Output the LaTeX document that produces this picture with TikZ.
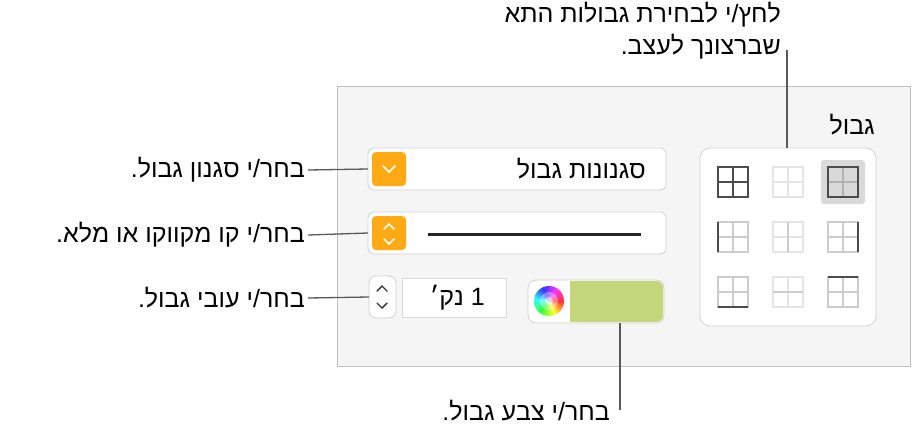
\documentclass[tikz,border=0pt]{standalone}
\usepackage{fontspec}
\setmainfont{Liberation Sans}
\usetikzlibrary{calc}
\TeXXeTstate=1
\definecolor{wellgreen}{RGB}{197,213,122}
\definecolor{btnorange}{RGB}{255,170,20}
\begin{document}
\begin{tikzpicture}[x=1pt,y=-1pt,
  lbl/.style={font=\fontsize{25}{28}\selectfont,inner sep=0pt},
  conn/.style={draw=black!65,line width=1.3pt},
  ctrl/.style={fill=white,draw=black!18,rounded corners=6pt,line width=0.8pt},
  lite/.style={draw=black!10,line width=1.4pt},
  mid/.style={draw=black!20,line width=1.4pt},
  dark/.style={draw=black!70,line width=2pt}]
\useasboundingbox (0,0) rectangle (912,434);
\fill[white] (0,0) rectangle (912,434);
% panel
\draw[fill=black!4,draw=black!25] (337,86) rectangle (910,366);
\node[lbl,anchor=east] (title) at (875,125) {\beginR גבול\endR};
% grid box
\draw[ctrl,rounded corners=10pt] (700,148) rectangle (876,326);
\coordinate (gridtop) at (787,148);
\fill[black!15,rounded corners=3pt] (821,160) rectangle (865,204);
\foreach \cx/\cy/\k in {733/182/a,788/182/b,843/182/c,733/237/d,788/237/e,843/237/f,733/292/g,788/292/h,843/292/i}{
  \coordinate (\k) at (\cx,\cy);
  \draw[lite] (\cx-15,\cy-15) rectangle (\cx+15,\cy+15) (\cx,\cy-15)--(\cx,\cy+15) (\cx-15,\cy)--(\cx+15,\cy);
}
\draw[dark] ($(a)+(-15,-15)$) rectangle ($(a)+(15,15)$) ($(a)+(0,-15)$)--($(a)+(0,15)$) ($(a)+(-15,0)$)--($(a)+(15,0)$);
\draw[draw=black!30,line width=1.4pt] ($(c)+(0,-15)$)--($(c)+(0,15)$) ($(c)+(-15,0)$)--($(c)+(15,0)$);
\draw[dark] ($(c)+(-15,-15)$) rectangle ($(c)+(15,15)$);
\draw[mid] ($(d)+(-15,-15)$) rectangle ($(d)+(15,15)$) ($(d)+(0,-15)$)--($(d)+(0,15)$) ($(d)+(-15,0)$)--($(d)+(15,0)$);
\draw[dark] ($(d)+(-15,-15)$)--($(d)+(-15,15)$);
\draw[mid] ($(e)+(0,-15)$)--($(e)+(0,15)$);
\draw[mid] ($(f)+(-15,-15)$) rectangle ($(f)+(15,15)$) ($(f)+(0,-15)$)--($(f)+(0,15)$) ($(f)+(-15,0)$)--($(f)+(15,0)$);
\draw[dark] ($(f)+(15,-15)$)--($(f)+(15,15)$);
\draw[mid] ($(g)+(-15,-15)$) rectangle ($(g)+(15,15)$) ($(g)+(0,-15)$)--($(g)+(0,15)$) ($(g)+(-15,0)$)--($(g)+(15,0)$);
\draw[dark] ($(g)+(-15,15)$)--($(g)+(15,15)$);
\draw[mid] ($(h)+(-15,0)$)--($(h)+(15,0)$);
\draw[mid] ($(i)+(-15,-15)$) rectangle ($(i)+(15,15)$) ($(i)+(0,-15)$)--($(i)+(0,15)$) ($(i)+(-15,0)$)--($(i)+(15,0)$);
\draw[dark] ($(i)+(-15,-15)$)--($(i)+(15,-15)$);
% popup 1
\draw[ctrl] (368,148) rectangle (666,190);
\fill[btnorange,rounded corners=4pt] (372,152) rectangle (406,186);
\draw[white,line width=1.6pt,line cap=round] (383,166)--(389,172)--(395,166);
\node[lbl,anchor=east] (style) at (646,169) {\beginR סגנונות גבול\endR};
\coordinate (p1) at (368,169);
% popup 2
\draw[ctrl] (368,212) rectangle (666,254);
\fill[btnorange,rounded corners=4pt] (372,216) rectangle (406,250);
\draw[white,line width=1.6pt,line cap=round] (384,229)--(389,224)--(394,229) (384,239)--(389,244)--(394,239);
\draw[black!85,line width=3pt] (428,234)--(641,234);
\coordinate (p2) at (368,233);
% stepper
\draw[ctrl,rounded corners=7pt] (369,276) rectangle (396,318);
\draw[black!80,line width=1.4pt,line cap=round] (377,291)--(382,286)--(387,291) (377,303)--(382,308)--(387,303);
\coordinate (p3) at (369,297);
\draw[fill=white,draw=black!15] (402,278) rectangle (506,317);
\node[lbl,anchor=east] (thick) at (485,298) {\beginR 1 נק׳\endR};
% colour well
\draw[ctrl,rounded corners=8pt] (528,280) rectangle (664,323);
\fill[wellgreen,rounded corners=7pt] (570,281) rectangle (663,322);
\fill[wellgreen] (570,281) rectangle (585,322);
\foreach \h in {0,10,...,350}{
  \pgfmathsetmacro{\hh}{\h/360}
  \definecolor{hc}{hsb}{\hh,0.8,1}
  \fill[hc] (549,301) -- ++(\h:15) arc[start angle=\h,end angle=\h+11,radius=15] -- cycle;
}
\fill[white,opacity=0.35] (549,301) circle (9);
\fill[white,opacity=0.5] (549,301) circle (4);
\coordinate (cw) at (620,323);
% labels
\node[lbl,anchor=east] (l1) at (305,170) {\beginR בחר/י סגנון גבול.\endR};
\node[lbl,anchor=east] (l2) at (305,235) {\beginR בחר/י קו מקווקו או מלא.\endR};
\node[lbl,anchor=east] (l3) at (305,298) {\beginR בחר/י עובי גבול.\endR};
\node[lbl,anchor=east] (l4) at (610,411) {\beginR בחר/י צבע גבול.\endR};
\node[lbl,anchor=east] (l5a) at (781,15) {\beginR לחץ/י לבחירת גבולות התא\endR};
\node[lbl,anchor=east] (l5b) at (781,47) {\beginR שברצונך לעצב.\endR};
\draw[conn] ($(l1.east)+(3,0)$) -- (p1);
\draw[conn] ($(l2.east)+(3,0)$) -- (p2);
\draw[conn] ($(l3.east)+(3,0)$) -- (p3);
\draw[conn] (cw) -- (620,410);
\draw[conn] (787,50) -- (gridtop);
\end{tikzpicture}
\end{document}
